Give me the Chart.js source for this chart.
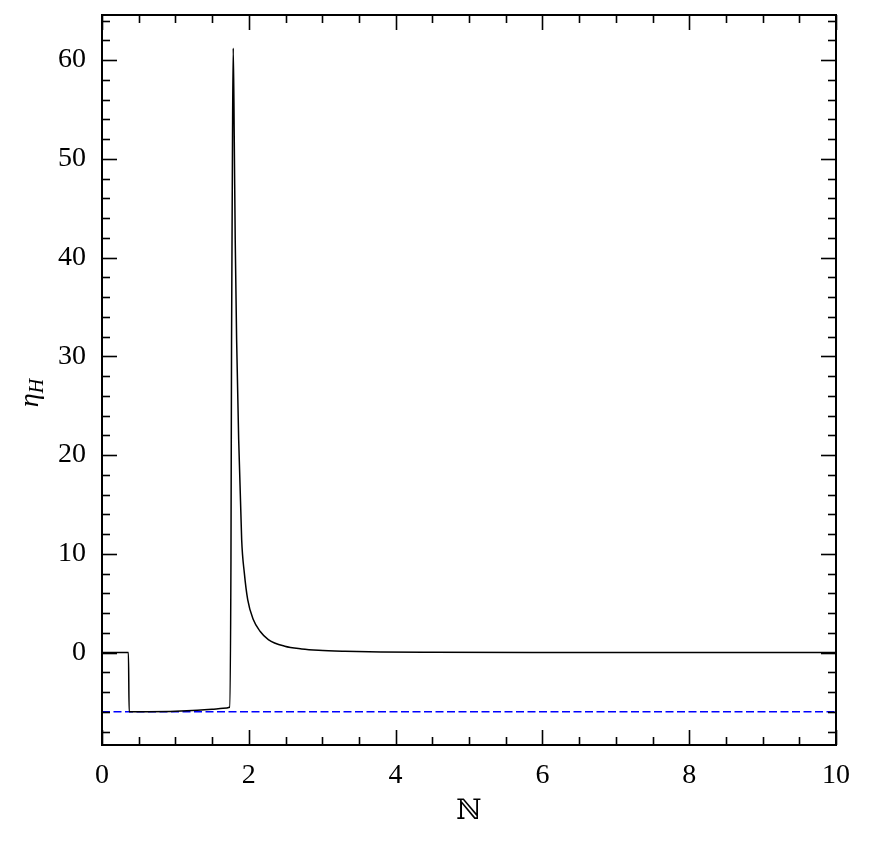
<!DOCTYPE html>
<html>
<head>
<meta charset="utf-8">
<script src="https://cdn.jsdelivr.net/npm/chart.js@4"></script>
<style>
  html, body { margin: 0; padding: 0; background: #fff; }
  #wrap { width: 869px; height: 846px; }
</style>
</head>
<body>
<div id="wrap"><canvas id="chart" width="869" height="846"></canvas></div>
<script>
// Values
const nValues = [0, 0.36, 0.37, 0.6, 1.0, 1.3, 1.5, 1.65, 1.738, 1.757, 1.765, 1.778, 1.788,
  1.802, 1.815, 1.834, 1.862, 1.903, 1.939, 1.985, 2.061, 2.153, 2.266, 2.49, 2.72, 2.95, 3.31, 3.8, 4.5, 6.0, 10.0];
const etaValues = [0, 0, -6, -5.99, -5.94, -5.85, -5.75, -5.65, -5.54, 9.4, 31.7, 51.9, 61.2,
  51.9, 41.8, 31.7, 21.6, 11.4, 8.07, 5.36, 3.34, 2.16, 1.32, 0.64, 0.37, 0.23, 0.13, 0.06, 0.03, 0.01, 0];
const refN = [0, 10];
const refEta = [-6, -6];

const xTicks = [0, 2, 4, 6, 8, 10];
const yTicks = [0, 10, 20, 30, 40, 50, 60];
const X_MINOR = 0.5;
const Y_MINOR = 2;
const Y_MIN = -9.36;
const Y_MAX = 64.56;

const FONT = '"Liberation Serif", "DejaVu Serif", serif';
const ctx = document.getElementById('chart');

// Frame, inward ticks on all four sides, and axis titles
const framePlugin = {
  id: 'frame',
  afterDraw(chart) {
    const { ctx: c, chartArea: a, scales } = chart;
    const xs = scales.x, ys = scales.y;
    c.save();
    c.strokeStyle = '#000';
    c.lineWidth = 1.6;
    const tick = (x1, y1, x2, y2) => { c.beginPath(); c.moveTo(x1, y1); c.lineTo(x2, y2); c.stroke(); };
    for (let v = 0; v <= 10 + 1e-9; v += X_MINOR) {
      const px = Math.round(xs.getPixelForValue(v)) + 0.5;
      const len = xTicks.includes(+v.toFixed(2)) ? 15 : 8;
      tick(px, a.bottom, px, a.bottom - len);
      tick(px, a.top, px, a.top + len);
    }
    for (let v = -8; v <= 64; v += Y_MINOR) {
      const py = Math.round(ys.getPixelForValue(v)) + 0.5;
      const len = yTicks.includes(v) ? 15 : 8;
      tick(a.left, py, a.left + len, py);
      tick(a.right, py, a.right - len, py);
    }
    c.lineWidth = 2;
    c.strokeRect(a.left, a.top, a.right - a.left, a.bottom - a.top);

    // x title
    c.fillStyle = '#000';
    c.font = '28px ' + FONT;
    c.textAlign = 'center';
    c.textBaseline = 'alphabetic';
    c.fillText('ℕ', (a.left + a.right) / 2, 819);

    // y title: eta with subscript H
    c.translate(38, 393);
    c.rotate(-Math.PI / 2);
    c.textAlign = 'left';
    c.font = 'italic 28px ' + FONT;
    const w1 = c.measureText('η').width;
    c.font = 'italic 20px ' + FONT;
    const w2 = c.measureText('H').width;
    const x0 = -(w1 + w2) / 2;
    c.font = 'italic 28px ' + FONT;
    c.fillText('η', x0, 0);
    c.font = 'italic 20px ' + FONT;
    c.fillText('H', x0 + w1, 5);
    c.restore();
  }
};

new Chart(ctx, {
  type: 'line',
  data: {
    datasets: [
      {
        data: nValues.map((n, i) => ({ x: n, y: etaValues[i] })),
        borderColor: '#000',
        borderWidth: 1.5,
        pointRadius: 0,
        cubicInterpolationMode: 'monotone',
      },
      {
        data: refN.map((n, i) => ({ x: n, y: refEta[i] })),
        borderColor: '#0000ff',
        borderWidth: 1.4,
        borderDash: [8, 3.5],
        pointRadius: 0,
      },
    ],
  },
  options: {
    responsive: false,
    animation: false,
    layout: { padding: { top: 15, right: 33, left: 0, bottom: 0 } },
    plugins: { legend: { display: false }, tooltip: { enabled: false } },
    scales: {
      x: {
        type: 'linear',
        min: 0,
        max: 10,
        grid: { display: false, drawTicks: false },
        border: { display: false },
        afterBuildTicks: s => { s.ticks = xTicks.map(v => ({ value: v })); },
        afterFit: s => { s.height = 101; s.paddingLeft = 0; s.paddingRight = 0; },
        ticks: { color: '#000', font: { family: FONT, size: 28 }, padding: 14, maxRotation: 0 },
      },
      y: {
        type: 'linear',
        min: Y_MIN,
        max: Y_MAX,
        grid: { display: false, drawTicks: false },
        border: { display: false },
        afterBuildTicks: s => { s.ticks = yTicks.map(v => ({ value: v })); },
        afterFit: s => { s.width = 102; s.paddingTop = 0; s.paddingBottom = 0; },
        ticks: { color: '#000', font: { family: FONT, size: 28 }, padding: 16 },
      },
    },
  },
  plugins: [framePlugin],
});
</script>
</body>
</html>
